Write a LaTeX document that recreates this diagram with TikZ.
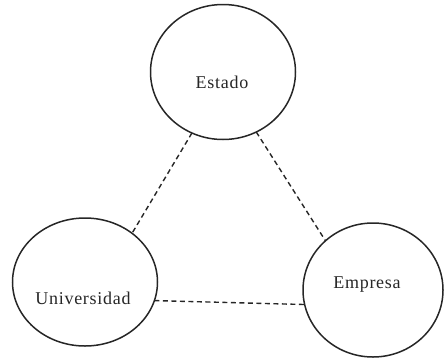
\documentclass[tikz,border=0pt]{standalone}
\usepackage{fontspec}
\setmainfont{Liberation Serif}
\newfontfamily\lblfont[LetterSpace=4]{Liberation Serif}
\usetikzlibrary{shapes.geometric}
\begin{document}
\begin{tikzpicture}[x=1pt,y=-1pt]
    % 定义样式
    \tikzstyle{actor}=[ellipse, draw=black!85, line width=1.5pt, inner sep=0pt, outer sep=0pt]
    \tikzstyle{lbl}=[font=\lblfont\fontsize{18}{22}\selectfont, text=black!85]
    \tikzstyle{link}=[line width=1.4pt, black!85, dash pattern=on 5pt off 3.5pt]

    % 画布大小
    \useasboundingbox (0,0) rectangle (444,359);

    % 1. 三个主体 (标签放在椭圆内部)
    \node[actor, minimum width=145pt, minimum height=135pt,
          label={[lbl, xshift=-1pt, yshift=-10pt]center:Estado}] (estado) at (223,72) {};
    \node[actor, minimum width=145pt, minimum height=128pt,
          label={[lbl, xshift=-2pt, yshift=-16pt]center:Universidad}] (univ) at (85,282) {};
    \node[actor, minimum width=140pt, minimum height=134pt,
          label={[lbl, xshift=-6pt, yshift=5pt]center:Empresa}] (empresa) at (373,290) {};

    % 2. 虚线连接
    \draw[link] (estado.243) -- (univ.46);
    \draw[link] (estado.299) -- (empresa.134);
    \draw[link] (univ.345) -- (empresa.192);

\end{tikzpicture}
\end{document}
